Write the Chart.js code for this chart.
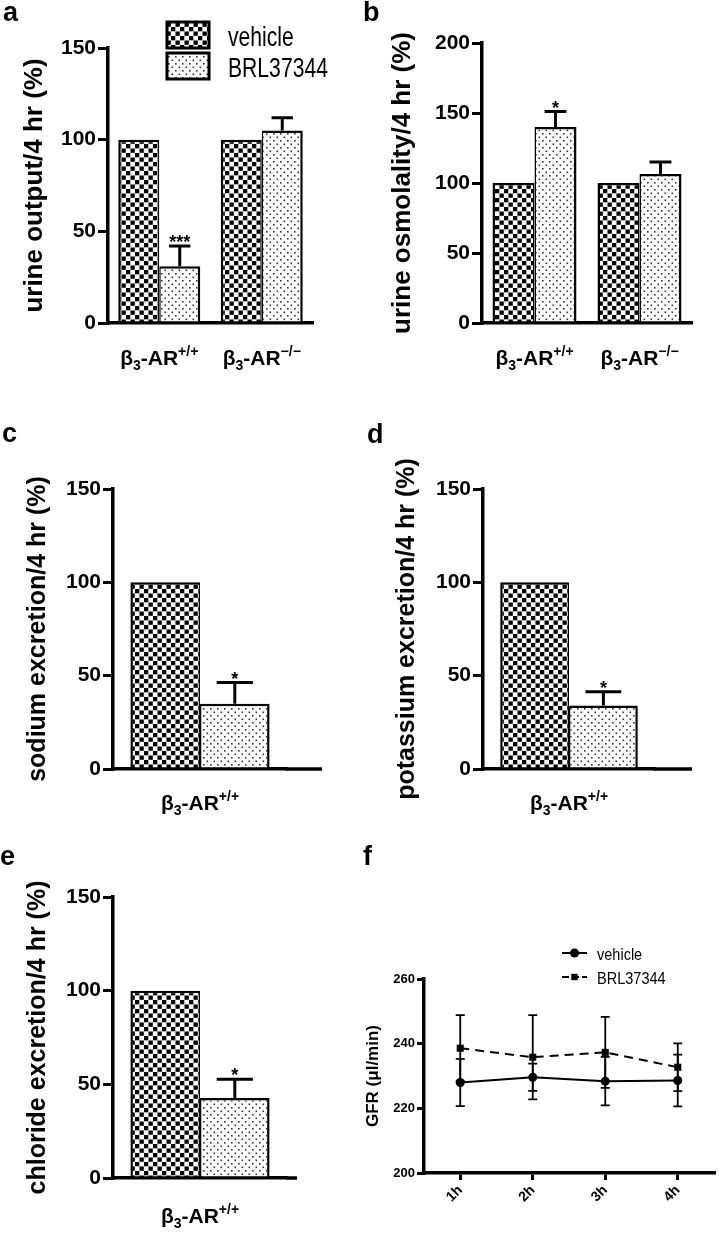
<!DOCTYPE html>
<html><head><meta charset="utf-8">
<script src="https://cdn.jsdelivr.net/npm/chart.js@4/dist/chart.umd.min.js"></script>
<style>
html,body{margin:0;padding:0;background:#fff;width:719px;height:1233px;overflow:hidden;position:relative}
canvas{position:absolute;display:block}
</style></head><body>
<canvas id="pa" width="360" height="372" style="left:0;top:0"></canvas>
<canvas id="pb" width="359" height="372" style="left:360px;top:0"></canvas>
<canvas id="pc" width="360" height="430" style="left:0;top:400px"></canvas>
<canvas id="pd" width="359" height="430" style="left:360px;top:400px"></canvas>
<canvas id="pe" width="360" height="413" style="left:0;top:820px"></canvas>
<canvas id="pf" width="359" height="413" style="left:360px;top:820px"></canvas>
<script>
// ---------------- data ----------------
const seriesNames = ['vehicle', 'BRL37344'];
const genotypesAB = ['β3-AR+/+', 'β3-AR−/−'];
const genotypeWT = ['β3-AR+/+'];

// a: urine output
const urineOutputVehicle = [100, 100];
const urineOutputBRL = [31, 105];
const urineOutputBRLsem = [11, 7];
const urineOutputSig = ['***', ''];
// b: urine osmolality
const osmolalityVehicle = [100, 100];
const osmolalityBRL = [140, 106.5];
const osmolalityBRLsem = [11, 8.5];
const osmolalitySig = ['*', ''];
// c: sodium
const sodiumVehicle = [100];
const sodiumBRL = [35];
const sodiumBRLsem = [11.3];
const sodiumSig = ['*'];
// d: potassium
const potassiumVehicle = [100];
const potassiumBRL = [34];
const potassiumBRLsem = [7.4];
const potassiumSig = ['*'];
// e: chloride
const chlorideVehicle = [100];
const chlorideBRL = [42.7];
const chlorideBRLsem = [10];
const chlorideSig = ['*'];
// f: GFR
const hours = ['1h', '2h', '3h', '4h'];
const gfrVehicle = [228, 229.6, 228.4, 228.6];
const gfrVehicleSem = [7.3, 4.2, 7.5, 8];
const gfrBRL = [238.6, 235.8, 237.3, 232.7];
const gfrBRLsem = [10.2, 13, 11, 7.4];

// tick values
const pctTicks150 = [0, 50, 100, 150];
const pctTicks200 = [0, 50, 100, 150, 200];
const gfrTicks = [200, 220, 240, 260];

const yTitles = {
  a: 'urine output/4 hr (%)',
  b: 'urine osmolality/4 hr (%)',
  c: 'sodium excretion/4 hr (%)',
  d: 'potassium excretion/4 hr (%)',
  e: 'chloride excretion/4 hr (%)',
  f: 'GFR (μl/min)'
};

// ---------------- helpers ----------------
const FONT = "'Liberation Sans', Arial, Helvetica, sans-serif";

function makeChecker(ctx) {
  const c = document.createElement('canvas'); c.width = 9; c.height = 9;
  const x = c.getContext('2d');
  x.fillStyle = '#fff'; x.fillRect(0, 0, 9, 9);
  x.fillStyle = '#000';
  x.fillRect(0, 0, 4.3, 4.3);
  x.fillRect(4.5, 4.5, 4.3, 4.3);
  return ctx.createPattern(c, 'repeat');
}
function makeDots(ctx) {
  const c = document.createElement('canvas'); c.width = 7; c.height = 7;
  const x = c.getContext('2d');
  x.fillStyle = '#fff'; x.fillRect(0, 0, 7, 7);
  x.fillStyle = '#333';
  x.fillRect(0, 0, 1.6, 1.6);
  x.fillRect(3.5, 3.5, 1.6, 1.6);
  return ctx.createPattern(c, 'repeat');
}

function drawGenotype(ctx, label, cx, base) {
  const m = label.match(/^(β)(\d)(-AR)(.+)$/);
  const big = 'bold 21px ' + FONT, small = 'bold 14px ' + FONT;
  const parts = [[m[1], big, 0], [m[2], small, 5], [m[3], big, 0], [m[4], small, -9]];
  let w = 0;
  parts.forEach(p => { ctx.font = p[1]; p.push(ctx.measureText(p[0]).width); w += p[3]; });
  let x = cx - w / 2;
  ctx.textAlign = 'left'; ctx.textBaseline = 'alphabetic'; ctx.fillStyle = '#000';
  parts.forEach(p => { ctx.font = p[1]; ctx.fillText(p[0], x, base + p[2]); x += p[3]; });
}

const decor = {
  id: 'decor',
  afterDatasetsDraw(chart, args, o) {
    const ctx = chart.ctx, ys = chart.scales.y;
    chart.data.datasets.forEach((ds, di) => {
      if (!ds.errors) return;
      const meta = chart.getDatasetMeta(di);
      meta.data.forEach((el, i) => {
        const v = ds.data[i], e = ds.errors[i];
        if (!e) return;
        const yt = ys.getPixelForValue(v + e), yb = ys.getPixelForValue(v - e);
        const half = o.capHalf != null ? o.capHalf : el.width * 0.26;
        ctx.save();
        ctx.strokeStyle = '#000'; ctx.lineWidth = o.errWidth; ctx.setLineDash([]);
        ctx.beginPath();
        ctx.moveTo(el.x, o.errBoth ? yb : el.y); ctx.lineTo(el.x, yt);
        ctx.moveTo(el.x - half, yt); ctx.lineTo(el.x + half, yt);
        if (o.errBoth) { ctx.moveTo(el.x - half, yb); ctx.lineTo(el.x + half, yb); }
        ctx.stroke();
        if (ds.sig && ds.sig[i]) {
          ctx.fillStyle = '#000'; ctx.font = 'bold 18px ' + FONT;
          ctx.textAlign = 'center'; ctx.textBaseline = 'alphabetic';
          ctx.fillText(ds.sig[i], el.x, yt + 2);
        }
        ctx.restore();
      });
    });
  },
  afterDraw(chart, args, o) {
    const ctx = chart.ctx, area = chart.chartArea;
    ctx.save();
    ctx.fillStyle = '#000'; ctx.font = 'bold 27px ' + FONT;
    ctx.textAlign = 'left'; ctx.textBaseline = 'alphabetic';
    ctx.fillText(o.letter, o.letterPos[0], o.letterPos[1]);
    if (o.extendRight) {
      ctx.strokeStyle = '#000'; ctx.lineWidth = 3.5;
      ctx.beginPath(); ctx.moveTo(area.right - 1, area.bottom); ctx.lineTo(area.right + o.extendRight, area.bottom); ctx.stroke();
    }
    if (o.catBaseline) {
      const xs = chart.scales.x;
      chart.data.labels.forEach((lab, i) => drawGenotype(ctx, lab, xs.getPixelForTick(i), area.bottom + o.catBaseline));
    }
    if (o.boxLegend) {
      const L = o.boxLegend;
      chart.data.datasets.forEach((ds, i) => {
        const top = L.y + i * L.step;
        ctx.fillStyle = ds.backgroundColor; ctx.fillRect(L.x, top, L.w, L.h);
        ctx.lineWidth = 3; ctx.strokeStyle = '#000'; ctx.strokeRect(L.x, top, L.w, L.h);
        ctx.save(); ctx.translate(L.textX, top + L.baseOff); ctx.scale(L.sx, 1);
        ctx.font = L.size + 'px ' + FONT; ctx.fillStyle = '#000'; ctx.textAlign = 'left';
        ctx.fillText(ds.label, 0, 0); ctx.restore();
      });
    }
    if (o.lineLegend) {
      const L = o.lineLegend;
      chart.data.datasets.forEach((ds, i) => {
        const y = L.y + i * L.step;
        ctx.strokeStyle = '#000'; ctx.lineWidth = ds.borderWidth;
        ctx.setLineDash(ds.borderDash ? L.dash : []);
        ctx.beginPath(); ctx.moveTo(L.x1, y); ctx.lineTo(L.x2, y); ctx.stroke();
        ctx.setLineDash([]);
        const mx = (L.x1 + L.x2) / 2;
        ctx.fillStyle = '#000';
        if (ds.pointStyle === 'rect') { const s = ds.pointRadius * Math.SQRT1_2 * 0.9; ctx.fillRect(mx - s, y - s, 2 * s, 2 * s); }
        else { ctx.beginPath(); ctx.arc(mx, y, ds.pointRadius, 0, Math.PI * 2); ctx.fill(); }
        ctx.save(); ctx.translate(L.textX, y + L.baseOff); ctx.scale(L.sx, 1);
        ctx.font = L.size + 'px ' + FONT; ctx.textAlign = 'left'; ctx.fillText(ds.label, 0, 0); ctx.restore();
      });
    }
    ctx.restore();
  }
};

function barPanel(id, o) {
  const canvas = document.getElementById(id);
  const ctx = canvas.getContext('2d');
  const W = canvas.width, H = canvas.height;
  const chk = makeChecker(ctx), dot = makeDots(ctx);
  return new Chart(ctx, {
    type: 'bar',
    data: {
      labels: o.cats,
      datasets: [
        { label: seriesNames[0], data: o.veh, backgroundColor: chk, borderColor: '#000',
          borderWidth: { top: 2.5, left: 2.5, right: 1.5, bottom: 0 }, barPercentage: 1, categoryPercentage: 0.8 },
        { label: seriesNames[1], data: o.brl, errors: o.err, sig: o.sig, backgroundColor: dot, borderColor: '#000',
          borderWidth: { top: 2.5, left: 1.5, right: 2.5, bottom: 0 }, barPercentage: 1, categoryPercentage: 0.8 }
      ]
    },
    options: {
      responsive: false, animation: false, events: [],
      layout: { padding: { top: o.area.top, right: W - o.area.right, left: 0, bottom: 0 } },
      scales: {
        x: {
          grid: { display: false }, ticks: { display: false },
          border: { display: true, color: '#000', width: 3.5 }, z: 1,
          afterFit(s) { s.height = H - o.area.bottom; }
        },
        y: {
          min: o.ticks[0], max: o.ticks[o.ticks.length - 1],
          ticks: { stepSize: o.ticks[1] - o.ticks[0], color: '#000', padding: 2, font: { family: FONT, weight: 'bold', size: 21 } },
          grid: { drawOnChartArea: false, drawTicks: true, tickLength: 10, lineWidth: 3, tickWidth: 3, tickColor: '#000', color: '#000' },
          border: { display: true, color: '#000', width: 3.5 },
          title: { display: true, text: o.title, color: '#000', font: { family: FONT, weight: 'bold', size: o.titleSize }, padding: { top: o.titlePad, bottom: 0 } },
          afterFit(s) { s.width = o.area.left; }
        }
      },
      plugins: {
        legend: { display: false }, tooltip: { enabled: false },
        decor: { letter: o.letter, letterPos: o.letterPos, catBaseline: o.catBaseline, extendRight: o.extendRight,
                 boxLegend: o.boxLegend || null, errWidth: 3, errBoth: false }
      }
    },
    plugins: [decor]
  });
}

barPanel('pa', { cats: genotypesAB, veh: urineOutputVehicle, brl: urineOutputBRL, err: urineOutputBRLsem, sig: urineOutputSig,
  ticks: pctTicks150, title: yTitles.a, titleSize: 26, titlePad: 19,
  area: { left: 108, top: 48, right: 313, bottom: 323 }, letter: 'a', letterPos: [3, 21], catBaseline: 42, extendRight: 0,
  boxLegend: { x: 167, y: 22, w: 42, h: 26, step: 31, textX: 228, baseOff: 23.5, size: 28, sx: 0.755 } });

barPanel('pb', { cats: genotypesAB, veh: osmolalityVehicle, brl: osmolalityBRL, err: osmolalityBRLsem, sig: osmolalitySig,
  ticks: pctTicks200, title: yTitles.b, titleSize: 26, titlePad: 27,
  area: { left: 122, top: 43, right: 332, bottom: 323 }, letter: 'b', letterPos: [3, 21], catBaseline: 42, extendRight: 0 });

barPanel('pc', { cats: genotypeWT, veh: sodiumVehicle, brl: sodiumBRL, err: sodiumBRLsem, sig: sodiumSig,
  ticks: pctTicks150, title: yTitles.c, titleSize: 25, titlePad: 23,
  area: { left: 113, top: 89, right: 287, bottom: 369 }, letter: 'c', letterPos: [2, 42], catBaseline: 41, extendRight: 35 });

barPanel('pd', { cats: genotypeWT, veh: potassiumVehicle, brl: potassiumBRL, err: potassiumBRLsem, sig: potassiumSig,
  ticks: pctTicks150, title: yTitles.d, titleSize: 25, titlePad: 32,
  area: { left: 123, top: 89, right: 295, bottom: 369 }, letter: 'd', letterPos: [7, 43], catBaseline: 41, extendRight: 37 });

barPanel('pe', { cats: genotypeWT, veh: chlorideVehicle, brl: chlorideBRL, err: chlorideBRLsem, sig: chlorideSig,
  ticks: pctTicks150, title: yTitles.e, titleSize: 25, titlePad: 23,
  area: { left: 113, top: 77, right: 287, bottom: 358 }, letter: 'e', letterPos: [0, 45], catBaseline: 45, extendRight: 10 });

// panel f
(function () {
  const canvas = document.getElementById('pf');
  const ctx = canvas.getContext('2d');
  const W = canvas.width, H = canvas.height;
  const area = { left: 64, top: 159, right: 357, bottom: 353 };
  new Chart(ctx, {
    type: 'line',
    data: {
      labels: hours,
      datasets: [
        { label: seriesNames[0], data: gfrVehicle, errors: gfrVehicleSem, borderColor: '#000', backgroundColor: '#000',
          borderWidth: 2, pointStyle: 'circle', pointRadius: 4.5, pointBackgroundColor: '#000', pointBorderColor: '#000', pointBorderWidth: 0, fill: false, tension: 0 },
        { label: seriesNames[1], data: gfrBRL, errors: gfrBRLsem, borderColor: '#000', backgroundColor: '#000',
          borderWidth: 2, borderDash: [9, 6], pointStyle: 'rect', pointRadius: 5, pointBackgroundColor: '#000', pointBorderColor: '#000', pointBorderWidth: 0, fill: false, tension: 0 }
      ]
    },
    options: {
      responsive: false, animation: false, events: [],
      layout: { padding: { top: area.top, right: W - area.right, left: 0, bottom: 0 } },
      scales: {
        x: {
          offset: true,
          grid: { drawOnChartArea: false, drawTicks: true, tickLength: 7, lineWidth: 3, tickWidth: 3, tickColor: '#000', color: '#000' },
          border: { display: true, color: '#000', width: 3.5 },
          ticks: { color: '#000', minRotation: 45, maxRotation: 45, padding: 2, font: { family: FONT, weight: 'bold', size: 14 } },
          afterFit(s) { s.height = H - area.bottom; }
        },
        y: {
          min: gfrTicks[0], max: gfrTicks[gfrTicks.length - 1],
          ticks: { stepSize: gfrTicks[1] - gfrTicks[0], color: '#000', padding: 2, font: { family: FONT, weight: 'bold', size: 13 } },
          grid: { drawOnChartArea: false, drawTicks: true, tickLength: 7, lineWidth: 3, tickWidth: 3, tickColor: '#000', color: '#000' },
          border: { display: true, color: '#000', width: 3.5 },
          title: { display: true, text: yTitles.f, color: '#000', font: { family: FONT, weight: 'bold', size: 17 }, padding: { top: 3, bottom: 0 } },
          afterFit(s) { s.width = area.left; }
        }
      },
      plugins: {
        legend: { display: false }, tooltip: { enabled: false },
        decor: { letter: 'f', letterPos: [3, 45], errWidth: 1.8, errBoth: true, capHalf: 4.5,
                 lineLegend: { x1: 202, x2: 227, y: 133, step: 24, dash: [7, 3], textX: 237, baseOff: 7, size: 16.5, sx: 0.88 } }
      }
    },
    plugins: [decor]
  });
})();
</script>
</body></html>
